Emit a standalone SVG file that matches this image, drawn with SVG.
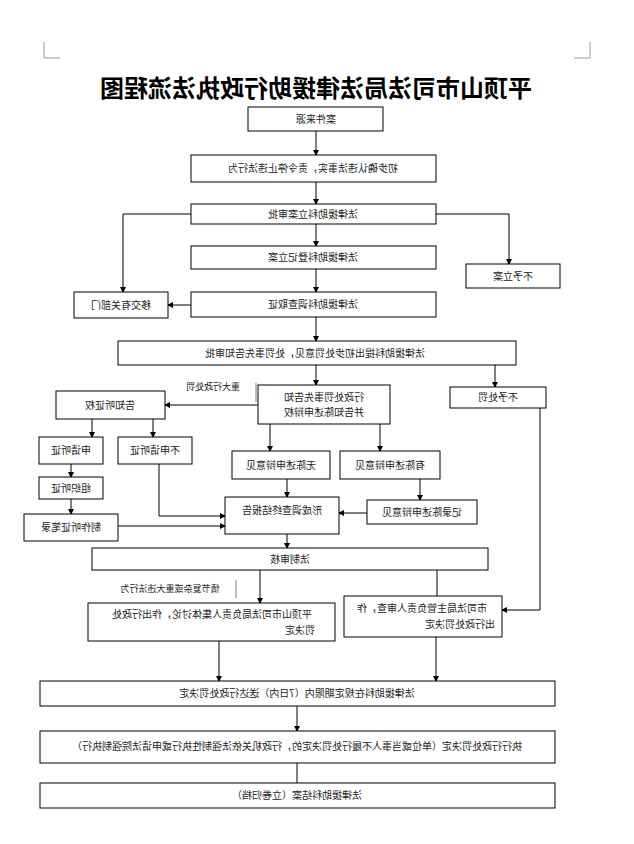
<svg xmlns="http://www.w3.org/2000/svg" width="634" height="844" viewBox="0 0 634 844">
<defs><marker id="a" markerWidth="6" markerHeight="6" refX="5" refY="3" orient="auto"><path d="M0,0L6,3L0,6z" fill="#000"/></marker></defs>
<style>
rect{fill:#fff;stroke:#000;stroke-width:1}
text{font-family:"Noto Sans CJK SC",sans-serif;font-size:10px;text-anchor:middle;fill:#222}
.c line,.c path{stroke:#000;fill:none;stroke-width:1}
.m{stroke:#999;fill:none}
</style>
<rect width="634" height="844" style="fill:#fff;stroke:none"/>
<g class="m"><path d="M44,42V58H60"/><path d="M590,42V58H574"/></g>
<text x="316" y="97" transform="matrix(-1 0 0 1 632 0)" style="font-size:24px;font-weight:bold;fill:#000">平顶山市司法局法律援助行政执法流程图</text>
<g class="c">
<line x1="316" y1="131" x2="316" y2="155" marker-end="url(#a)"/>
<line x1="316" y1="182" x2="316" y2="204" marker-end="url(#a)"/>
<path d="M191,214H123V292" marker-end="url(#a)"/>
<path d="M436,214H509V264" marker-end="url(#a)"/>
<line x1="316" y1="224" x2="316" y2="246" marker-end="url(#a)"/>
<line x1="316" y1="269" x2="316" y2="292" marker-end="url(#a)"/>
<line x1="191" y1="305" x2="168" y2="305" marker-end="url(#a)"/>
<line x1="316" y1="317" x2="316" y2="341" marker-end="url(#a)"/>
<line x1="316" y1="365" x2="316" y2="385" marker-end="url(#a)"/>
<line x1="495" y1="365" x2="495" y2="387" marker-end="url(#a)"/>
<line x1="258" y1="405" x2="165" y2="405" marker-end="url(#a)"/>
<line x1="92" y1="419" x2="92" y2="437" marker-end="url(#a)"/>
<line x1="153" y1="419" x2="153" y2="437" marker-end="url(#a)"/>
<line x1="71" y1="464" x2="71" y2="477" marker-end="url(#a)"/>
<line x1="71" y1="499" x2="71" y2="514" marker-end="url(#a)"/>
<path d="M159,464V516H225" marker-end="url(#a)"/>
<line x1="118" y1="526" x2="225" y2="526" marker-end="url(#a)"/>
<line x1="270" y1="424" x2="270" y2="451" marker-end="url(#a)"/>
<line x1="380" y1="424" x2="380" y2="451" marker-end="url(#a)"/>
<line x1="287" y1="479" x2="287" y2="497" marker-end="url(#a)"/>
<line x1="420" y1="479" x2="420" y2="500" marker-end="url(#a)"/>
<line x1="367" y1="513" x2="339" y2="513" marker-end="url(#a)"/>
<line x1="287" y1="534" x2="287" y2="548" marker-end="url(#a)"/>
<path d="M540,408V610H502" marker-end="url(#a)"/>
<line x1="260" y1="570" x2="260" y2="603" marker-end="url(#a)"/>
<line x1="437" y1="570" x2="437" y2="596"/>
<line x1="219" y1="641" x2="219" y2="681" marker-end="url(#a)"/>
<line x1="436" y1="637" x2="436" y2="681" marker-end="url(#a)"/>
<line x1="297" y1="706" x2="297" y2="731" marker-end="url(#a)"/>
<line x1="297" y1="763" x2="297" y2="783"/>
<line x1="256" y1="383" x2="256" y2="402" style="stroke:#6b7fa8"/>
<line x1="236" y1="580" x2="236" y2="598" style="stroke:#6b7fa8"/>
</g>
<g id="n1"><rect x="248" y="107" width="135" height="24"/><text x="316" y="123" transform="matrix(-1 0 0 1 632 0)">案件来源</text></g>
<g id="n2"><rect x="191" y="155" width="245" height="27"/><text x="313" y="172" transform="matrix(-1 0 0 1 626 0)">初步确认违法事实，责令停止违法行为</text></g>
<g id="n3"><rect x="191" y="204" width="245" height="20"/><text x="313" y="218" transform="matrix(-1 0 0 1 626 0)">法律援助科立案审批</text></g>
<g id="n4"><rect x="191" y="246" width="245" height="23"/><text x="313" y="261" transform="matrix(-1 0 0 1 626 0)">法律援助科登记立案</text></g>
<g id="n5"><rect x="466" y="264" width="94" height="24"/><text x="513" y="280" transform="matrix(-1 0 0 1 1026 0)">不予立案</text></g>
<g id="n6"><rect x="191" y="292" width="245" height="25"/><text x="313" y="308" transform="matrix(-1 0 0 1 626 0)">法律援助科调查取证</text></g>
<g id="n7"><rect x="74" y="292" width="94" height="26"/><text x="121" y="309" transform="matrix(-1 0 0 1 242 0)">移交有关部门</text></g>
<g id="n8"><rect x="118" y="341" width="398" height="24"/><text x="315" y="357" transform="matrix(-1 0 0 1 630 0)">法律援助科提出初步处罚意见，处罚事先告知审批</text></g>
<text x="213" y="390" transform="matrix(-1 0 0 1 426 0)" style="font-size:9px">重大行政处罚</text>
<g id="n9"><rect x="258" y="385" width="132" height="39"/><text x="324" y="401" transform="matrix(-1 0 0 1 648 0)">行政处罚事先告知</text><text x="324" y="416" transform="matrix(-1 0 0 1 648 0)">并告知陈述申辩权</text></g>
<g id="n10"><rect x="450" y="387" width="96" height="21"/><text x="498" y="401" transform="matrix(-1 0 0 1 996 0)">不予处罚</text></g>
<g id="n11"><rect x="56" y="391" width="109" height="28"/><text x="110" y="409" transform="matrix(-1 0 0 1 220 0)">告知听证权</text></g>
<g id="n12"><rect x="39" y="437" width="64" height="27"/><text x="71" y="454" transform="matrix(-1 0 0 1 142 0)">申请听证</text></g>
<g id="n13"><rect x="118" y="437" width="74" height="27"/><text x="155" y="454" transform="matrix(-1 0 0 1 310 0)">不申请听证</text></g>
<g id="n14"><rect x="232" y="451" width="98" height="28"/><text x="281" y="469" transform="matrix(-1 0 0 1 562 0)">无陈述申辩意见</text></g>
<g id="n15"><rect x="340" y="451" width="100" height="28"/><text x="390" y="469" transform="matrix(-1 0 0 1 780 0)">有陈述申辩意见</text></g>
<g id="n16"><rect x="39" y="477" width="64" height="22"/><text x="71" y="492" transform="matrix(-1 0 0 1 142 0)">组织听证</text></g>
<g id="n17"><rect x="225" y="497" width="114" height="37"/><text x="282" y="514" transform="matrix(-1 0 0 1 564 0)">形成调查终结报告</text></g>
<g id="n18"><rect x="367" y="500" width="110" height="24"/><text x="422" y="516" transform="matrix(-1 0 0 1 844 0)">记录陈述申辩意见</text></g>
<g id="n19"><rect x="24" y="514" width="94" height="27"/><text x="71" y="531" transform="matrix(-1 0 0 1 142 0)">制作听证笔录</text></g>
<g id="n20"><rect x="92" y="548" width="396" height="22"/><text x="290" y="563" transform="matrix(-1 0 0 1 580 0)">法制审核</text></g>
<text x="170" y="592" transform="matrix(-1 0 0 1 340 0)" style="font-size:9px">情节复杂或重大违法行为</text>
<g id="n21"><rect x="88" y="603" width="247" height="38"/><text x="212" y="618" transform="matrix(-1 0 0 1 424 0)">平顶山市司法局负责人集体讨论，作出行政处</text><text x="300" y="634" transform="matrix(-1 0 0 1 600 0)">罚决定</text></g>
<g id="n22"><rect x="344" y="596" width="158" height="41"/><text x="422" y="612" transform="matrix(-1 0 0 1 844 0)">市司法局主管负责人审查，作</text><text x="460" y="628" transform="matrix(-1 0 0 1 920 0)">出行政处罚决定</text></g>
<g id="n23"><rect x="40" y="681" width="515" height="25"/><text x="297" y="697" transform="matrix(-1 0 0 1 594 0)">法律援助科在规定期限内（7日内）送达行政处罚决定</text></g>
<g id="n24"><rect x="40" y="731" width="515" height="32"/><text x="297" y="750" transform="matrix(-1 0 0 1 594 0)">执行行政处罚决定（单位或当事人不履行处罚决定的，行政机关依法强制性执行或申请法院强制执行）</text></g>
<g id="n25"><rect x="40" y="783" width="515" height="25"/><text x="297" y="799" transform="matrix(-1 0 0 1 594 0)">法律援助科结案（立卷归档）</text></g>
</svg>
